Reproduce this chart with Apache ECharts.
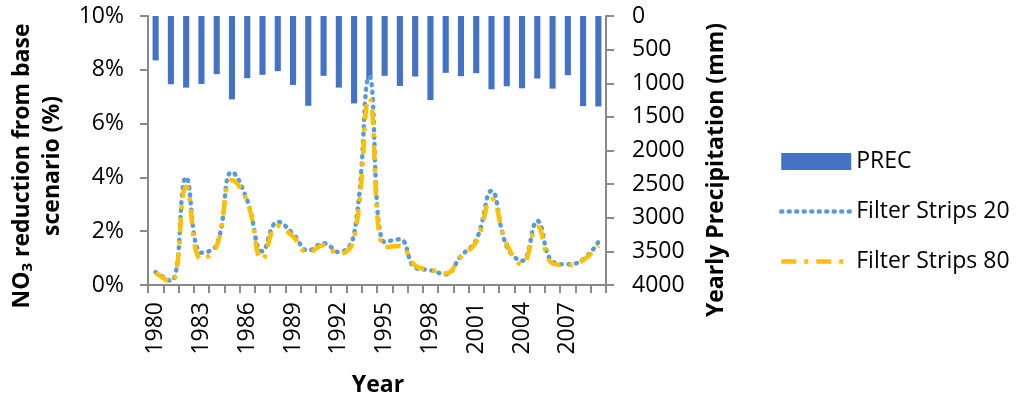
<!DOCTYPE html>
<html>
<head>
<meta charset="utf-8">
<script src="https://cdn.jsdelivr.net/npm/echarts@6/dist/echarts.min.js"></script>
<style>
  html, body { margin: 0; padding: 0; background: #fff; }
  #main { width: 1024px; height: 406px; }
</style>
</head>
<body>
<div id="main"></div>
<script>
// years on the category axis
var years = ['1980', '1981', '1982', '1983', '1984', '1985', '1986', '1987', '1988', '1989',
             '1990', '1991', '1992', '1993', '1994', '1995', '1996', '1997', '1998', '1999',
             '2000', '2001', '2002', '2003', '2004', '2005', '2006', '2007', '2008', '2009'];

// yearly precipitation (mm), drawn down from the top on the inverted right axis
var prec = [660, 1015, 1065, 1010, 865, 1240, 925, 875, 820, 1025,
            1335, 890, 1065, 1300, 940, 890, 1040, 900, 1250, 845,
            895, 850, 1090, 1045, 1075, 930, 1080, 880, 1340, 1345];

// NO3 reduction from base scenario (%)
var fs20 = [0.48, 0.15, 4.0, 1.2, 1.5, 4.2, 3.15, 1.25, 2.35, 1.9,
            1.28, 1.55, 1.22, 1.9, 7.75, 1.6, 1.7, 0.65, 0.55, 0.4,
            1.08, 1.68, 3.5, 1.43, 0.9, 2.38, 0.87, 0.77, 0.95, 1.6];
var fs80 = [0.45, 0.1, 3.65, 0.95, 1.45, 3.9, 3.1, 0.95, 2.2, 1.8,
            1.2, 1.48, 1.15, 1.72, 6.95, 1.4, 1.45, 0.72, 0.57, 0.43,
            1.05, 1.6, 3.2, 1.52, 0.77, 2.17, 0.8, 0.74, 0.92, 1.45];

var FONT = 'Open Sans';
var axisGray = '#898989';
var noSymbol = { color: 'rgba(0,0,0,0)', borderColor: 'rgba(0,0,0,0)', borderWidth: 0 };
var dotStyle = { color: '#5B9BD5', width: 4.5, type: [1, 6.5], cap: 'round' };
var dashDotStyle = { color: '#FFC000', width: 4.5, type: [15, 8, 4, 8], cap: 'butt' };

var chart = echarts.init(document.getElementById('main'));

var option = {
  backgroundColor: '#fff',
  animation: false,
  textStyle: { fontFamily: FONT, color: '#000' },
  grid: { left: 148, right: 418, top: 16, bottom: 121, containLabel: false },
  legend: {
    orient: 'vertical',
    left: 774,
    top: 145,
    itemWidth: 70,
    itemHeight: 17,
    itemGap: 27,
    textStyle: { fontFamily: FONT, fontSize: 23, color: '#000' },
    data: [
      { name: 'PREC', icon: 'rect' },
      { name: 'Filter Strips 20', itemStyle: noSymbol, lineStyle: dotStyle },
      { name: 'Filter Strips 80', itemStyle: noSymbol, lineStyle: dashDotStyle }
    ]
  },
  xAxis: {
    type: 'category',
    data: years,
    boundaryGap: true,
    axisLine: { lineStyle: { color: axisGray, width: 2 } },
    axisTick: { show: true, interval: 0, length: 8, lineStyle: { color: axisGray, width: 2 } },
    axisLabel: {
      interval: 2, rotate: 90, margin: 17,
      fontFamily: FONT, fontSize: 23, color: '#000'
    },
    splitLine: { show: false }
  },
  yAxis: [
    {
      type: 'value',
      min: 0, max: 10, interval: 2,
      axisLine: { show: true, lineStyle: { color: axisGray, width: 2 } },
      axisTick: { show: true, length: 8, lineStyle: { color: axisGray, width: 2 } },
      axisLabel: { formatter: '{value}%', margin: 24, fontFamily: FONT, fontSize: 23, color: '#000' },
      splitLine: { show: false }
    },
    {
      type: 'value',
      inverse: true,
      min: 0, max: 4000, interval: 500,
      axisLine: { show: true, lineStyle: { color: axisGray, width: 2 } },
      axisTick: { show: true, length: 8, lineStyle: { color: axisGray, width: 2 } },
      axisLabel: {
        formatter: function (v) { return String(v); },
        margin: 26, fontFamily: FONT, fontSize: 23, color: '#000'
      },
      splitLine: { show: false }
    }
  ],
  series: [
    {
      name: 'PREC',
      type: 'bar',
      yAxisIndex: 1,
      data: prec,
      barWidth: '40%',
      itemStyle: { color: '#4472C4' },
      z: 1
    },
    {
      name: 'Filter Strips 20',
      type: 'line',
      data: fs20,
      smooth: 0.45,
      symbol: 'none',
      lineStyle: dotStyle,
      itemStyle: { color: '#5B9BD5' },
      z: 3
    },
    {
      name: 'Filter Strips 80',
      type: 'line',
      data: fs80,
      smooth: 0.45,
      symbol: 'none',
      lineStyle: dashDotStyle,
      itemStyle: { color: '#FFC000' },
      z: 4
    }
  ],
  graphic: [
    {
      type: 'text',
      x: 37, y: 166,
      rotation: Math.PI / 2,
      style: {
        text: '{a|NO}{s|3}{a| reduction from base}\n{a|scenario (%)}',
        align: 'center',
        verticalAlign: 'middle',
        rich: {
          a: { fontFamily: FONT, fontSize: 23, fontWeight: 'bold', fill: '#000', lineHeight: 30 },
          s: { fontFamily: FONT, fontSize: 15, fontWeight: 'bold', fill: '#000', lineHeight: 30, padding: [12, 0, 0, 0] }
        }
      }
    },
    {
      type: 'text',
      x: 716, y: 170,
      rotation: Math.PI / 2,
      style: {
        text: 'Yearly Precipitation (mm)',
        align: 'center',
        verticalAlign: 'middle',
        fontFamily: FONT, fontSize: 23, fontWeight: 'bold', fill: '#000'
      }
    },
    {
      type: 'text',
      x: 378, y: 385,
      style: {
        text: 'Year',
        align: 'center',
        verticalAlign: 'middle',
        fontFamily: FONT, fontSize: 23, fontWeight: 'bold', fill: '#000'
      }
    }
  ]
};

chart.setOption(option);
</script>
</body>
</html>
